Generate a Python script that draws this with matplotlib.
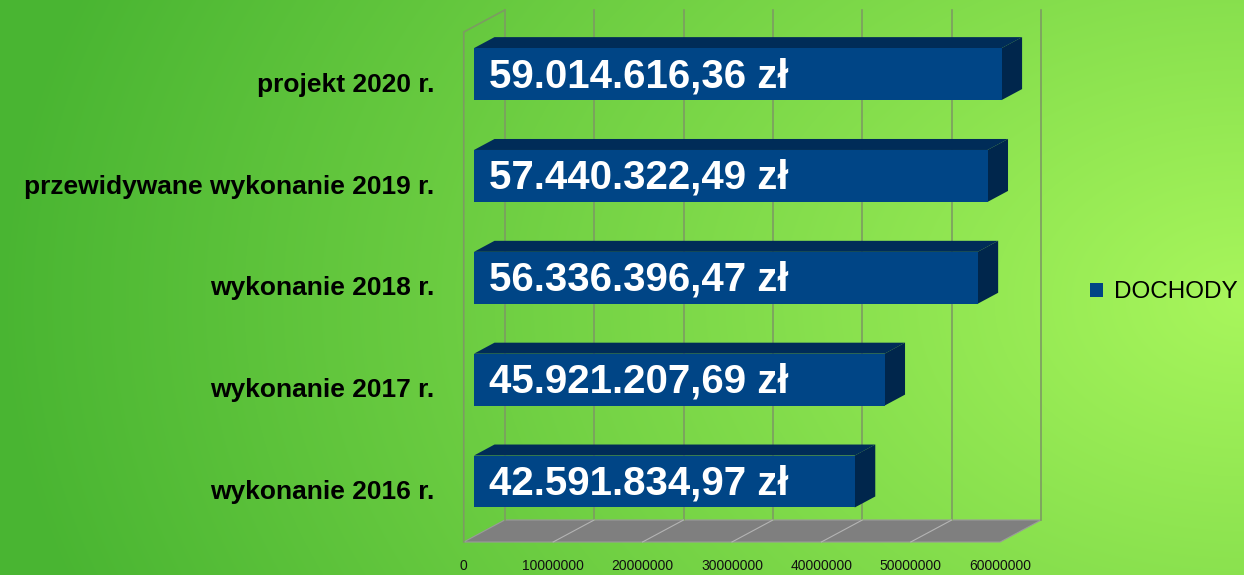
import numpy as np
import matplotlib
matplotlib.use('Agg')
import matplotlib.pyplot as plt
from matplotlib.patches import Polygon

plt.rcParams['font.family'] = ['Liberation Sans', 'DejaVu Sans']

# data
categories = ['wykonanie 2016 r.', 'wykonanie 2017 r.', 'wykonanie 2018 r.',
              'przewidywane wykonanie 2019 r.', 'projekt 2020 r.']
values = [42591834.97, 45921207.69, 56336396.47, 57440322.49, 59014616.36]
value_labels = ['42.591.834,97 zł', '45.921.207,69 zł', '56.336.396,47 zł',
                '57.440.322,49 zł', '59.014.616,36 zł']
ticks = [0, 10000000, 20000000, 30000000, 40000000, 50000000, 60000000]
series_name = 'DOCHODY'

W, H = 1244, 575
fig = plt.figure(figsize=(W / 100, H / 100), dpi=100)

# background gradient
bg = fig.add_axes([0, 0, 1, 1], zorder=0)
yy, xx = np.mgrid[0:H, 0:W]
t = np.clip(np.sqrt(((xx - 1244) / 1250.0) ** 2 + ((yy - 300) / 880.0) ** 2), 0, 1)
bright = np.array([0xa8, 0xf6, 0x5c]) / 255.0
dark = np.array([0x49, 0xb5, 0x32]) / 255.0
img = bright[None, None, :] * (1 - t[..., None]) + dark[None, None, :] * t[..., None]
bg.imshow(img, aspect='auto', extent=(0, W, H, 0))
bg.axis('off')

# main axes: x in value units, y in category index; pixel scale matched
px_per_unit = 8.94 / 1e6
x0px = 474.0
row_px = 101.85
y0px = 481.5
ax = fig.add_axes([0, 0, 1, 1], zorder=1)
ax.patch.set_alpha(0)
ax.set_xlim(-x0px / px_per_unit, (W - x0px) / px_per_unit)
ax.set_ylim((y0px - H) / row_px, y0px / row_px)
ax.axis('off')

ddx = 41 / px_per_unit   # full depth in x
ddy = 22 / row_px        # full depth in y


def off(d):
    return d * ddx, d * ddy


floor_y = -0.54
wall_top = 4.467
xmax = ticks[-1]

# floor
fx0, fy0 = off(-0.25)
fx1, fy1 = off(0.75)
ax.add_patch(Polygon([(0 + fx0, floor_y + fy0), (xmax + fx0, floor_y + fy0),
                      (xmax + fx1, floor_y + fy1), (0 + fx1, floor_y + fy1)],
                     closed=True, facecolor='#7f7f7f', edgecolor='#9a9a9a', lw=0.8, zorder=2))
for tv in ticks[1:-1]:
    ax.plot([tv + fx0, tv + fx1], [floor_y + fy0, floor_y + fy1], color='#b4b4b4', lw=0.8, zorder=3)

# back wall gridlines
for tv in ticks:
    ax.plot([tv + fx1, tv + fx1], [floor_y + fy1, wall_top + fy1], color='#7c9c62', lw=1.2, zorder=2)

# left wall outline
ax.plot([fx0, fx0, fx1], [floor_y + fy0, wall_top + fy0, wall_top + fy1], color='#7c9c62', lw=1.2, zorder=2)

# bars
h = 0.51
bdx, bdy = off(0.5)
idx = np.arange(len(categories))
ax.barh(idx, values, height=h, left=0, color='#004586', label=series_name, zorder=5)
for i, v in zip(idx, values):
    top = i + h / 2
    bot = i - h / 2
    ax.add_patch(Polygon([(0, top), (v, top), (v + bdx, top + bdy), (bdx, top + bdy)],
                         closed=True, facecolor='#002c58', edgecolor='none', zorder=4))
    ax.add_patch(Polygon([(v, bot), (v, top), (v + bdx, top + bdy), (v + bdx, bot + bdy)],
                         closed=True, facecolor='#00264c', edgecolor='none', zorder=4))

# value labels
for i, lab in zip(idx, value_labels):
    ax.text(1.7e6, i - 0.02, lab, color='white', fontsize=29, fontweight='bold',
            ha='left', va='center', zorder=6)

# category labels
for i, lab in zip(idx, categories):
    ax.text(fx0 - 3.3e6, i - 0.05 + fy0, lab, color='black', fontsize=19, fontweight='bold',
            ha='right', va='center', zorder=6)

# tick labels
for tv in ticks:
    ax.text(tv + fx0, -0.83, str(tv), color='#111111', fontsize=10,
            ha='center', va='center', zorder=6)

ax.legend(loc='center left', bbox_to_anchor=(1090 / W, 1 - 292.5 / H),
          bbox_transform=fig.transFigure, frameon=False, fontsize=17.5,
          handlelength=0.55, handleheight=0.55, handletextpad=0.45,
          borderpad=0, borderaxespad=0)

fig.savefig('out.png', dpi=100)
